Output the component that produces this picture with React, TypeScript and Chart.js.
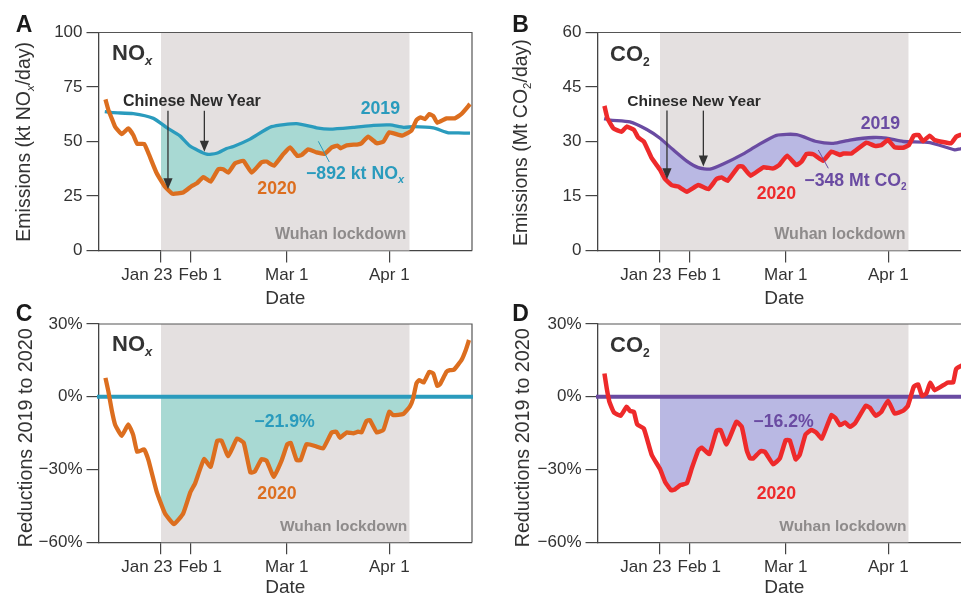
import React, { useEffect, useRef } from 'react';
import { Chart, registerables } from 'chart.js';

Chart.register(...registerables);
Chart.defaults.font.family = '"Liberation Sans", Arial, sans-serif';

// days are counted from Jan 23 (start of the Wuhan lockdown)
const lockdownStart = 0;
const lockdownEnd = 75.1;
const dayMin = -18.9;
const dayMax = 94;
const dateTicks = [0, 9, 38, 69];
const dateLabels = ['Jan 23      ', '    Feb 1', 'Mar 1', 'Apr 1'];

const noxDays2020 = [-16.8, -15.9, -14.9, -13.9, -11.9, -9.9, -8.4, -7.2, -5.1, -3.8, -1.3, 1.2, 3.5, 6.7, 9.3, 10.8, 12.8, 15, 17.3, 18.8, 20.3, 22.4, 24.9, 27.4, 30.4, 31.9, 34.1, 37, 39, 41.2, 42.5, 44.5, 47, 49.5, 51.6, 53.3, 54.3, 56.1, 59.6, 60.6, 62.6, 65.2, 67.2, 69, 72.9, 75.7, 77.2, 78.4, 79.8, 81.1, 82.3, 83.5, 86.3, 88.8, 90.8, 93.4];
const noxValues2020 = [69.3, 64.4, 60.6, 56.8, 53.4, 56, 53, 48.9, 48.9, 44.6, 35.4, 29.3, 26, 26.6, 29.6, 30.8, 33.6, 31.6, 37.3, 37.3, 35.7, 40, 41.1, 35.7, 40.5, 40.8, 38.9, 44.3, 47.3, 43.4, 43.8, 46.4, 45, 44.4, 47.3, 48.1, 46.9, 48.2, 48.7, 49.2, 52.2, 49.2, 49.9, 54.2, 52.7, 55, 59.8, 61.1, 60.3, 62.6, 61.7, 58.6, 60.6, 60.6, 62.6, 67.2];
const noxDays2019 = [-17, -14.4, -8.4, -2.3, 1.7, 5.7, 8.7, 13.8, 16.8, 19.8, 21.9, 26.9, 33.4, 41, 47, 51.1, 58.1, 64.2, 69.2, 73.3, 76.3, 82.3, 86.9, 89.9, 93.4];
const noxValues2019 = [63.7, 63.2, 62.8, 60.6, 56.4, 52.6, 48, 44.2, 44.6, 46.8, 47.7, 51.1, 56.8, 58.2, 56.3, 55.7, 56.5, 57.4, 57.6, 56.5, 56.8, 56.2, 54, 54, 53.8];

const co2Days2020 = [-16.8, -15.9, -14.1, -11.6, -10.1, -7.9, -6.6, -4.9, -2.5, 0, 1.5, 3.5, 5.5, 8.1, 11.6, 14.6, 17.1, 18.6, 20.4, 23.7, 25, 27.4, 31.2, 34.2, 36, 38.4, 41.2, 42.8, 44.3, 46.3, 49.3, 51.8, 54.4, 55.4, 57.9, 62.4, 64.9, 66.9, 68.9, 70.9, 73.4, 75.2, 76.7, 78.2, 79.5, 81.5, 83, 88, 89.5, 90.8, 93.4];
const co2Values2020 = [39.8, 36.4, 33.6, 32.7, 34.1, 33.2, 31.1, 30, 25.4, 22.2, 19.7, 18, 17.6, 16.2, 18, 16.9, 19.7, 20.1, 19.2, 23.1, 23.1, 20.6, 22.9, 22.6, 23.5, 26.1, 23.5, 24.5, 26.6, 26.5, 24.7, 27.2, 26.3, 26.7, 26.7, 29.7, 28.8, 29, 30.4, 28.4, 28.3, 29, 31.6, 31.8, 30.1, 31.6, 30.4, 29.5, 31.3, 31.8, 32.5];
const co2Days2019 = [-16.9, -15.1, -9.1, -4, 0, 4, 8.1, 11.6, 15.1, 19.1, 25.2, 29.2, 35.2, 41.3, 47.3, 52.4, 57.4, 64.5, 68.5, 73.5, 81.6, 89.1, 90.8, 93.4];
const co2Values2019 = [36.3, 35.9, 35.4, 33.3, 30.9, 27.7, 24.6, 22.8, 22.4, 23.8, 26.6, 28.8, 31.7, 31.9, 30, 29.5, 30.4, 31.1, 30.9, 30, 29.7, 27.7, 28, 28.2];

const noxChangeDays = [-16.8, -15.9, -14.9, -13.9, -11.9, -9.9, -8.4, -7.2, -5.1, -3.8, -1.3, 1.2, 3.9, 6.7, 8.9, 10.3, 13, 15, 17, 18.3, 20.3, 23, 25, 27, 28.3, 30.4, 31.9, 34.1, 36.5, 38.2, 39.2, 41, 42.2, 44, 46.6, 49, 51.6, 53, 54.1, 56.1, 58.1, 59.6, 60.6, 62.1, 63.1, 65.2, 67.2, 69, 70.2, 73.2, 75.2, 76.2, 77.2, 78, 79.4, 81.1, 82.3, 83.5, 84.3, 86.3, 87.3, 88.5, 90.8, 92.1, 93.1];
const noxChangeValues = [7.8, 2.1, -5.5, -11.4, -16.1, -11.4, -15.8, -22.7, -21.7, -26.1, -39.2, -48.1, -52.5, -48.1, -39.2, -35.7, -25.7, -28.9, -18.1, -18.1, -24.5, -17.2, -19, -31.2, -30.9, -25.7, -26.4, -33, -26.1, -19.5, -19, -26.1, -26.1, -19.5, -20.3, -21.3, -14.7, -14.4, -16.9, -14.7, -15.1, -14.4, -14.7, -10, -9.6, -14.7, -13.7, -6.2, -7.6, -7.1, -4.1, -0.7, 5.5, 6.9, 5.9, 10.3, 9.6, 4.5, 5.1, 10.3, 11, 11.1, 15.1, 19.2, 23.4];
const co2ChangeDays = [-16.8, -16.1, -15.3, -13.9, -11.9, -10.1, -9.1, -7.9, -6.9, -4.9, -2.5, 0, 1.5, 3.3, 4.5, 6.2, 8.1, 9.6, 11.6, 12.6, 14.9, 17.1, 18.3, 20.1, 23.1, 24.7, 26.2, 27.2, 28.2, 30.4, 31.7, 34.2, 36.2, 38, 39.2, 41, 42.2, 44, 45.7, 47.2, 48.9, 51.8, 53, 54.4, 55.9, 57.4, 58.9, 62.2, 63.4, 65.2, 66.9, 68.9, 70.9, 73.4, 74.9, 76.7, 78, 79.2, 80.5, 81.7, 83, 87, 88.6, 89.5, 90.8, 93.4];
const co2ChangeValues = [9.6, 3.4, -2.1, -6.5, -7.8, -4.1, -5.8, -6.2, -11.4, -13.1, -24, -29.8, -35, -38.5, -38.2, -36.4, -35.7, -29.5, -22, -21, -23.6, -14, -13.7, -19.6, -10.3, -12.4, -22, -25.4, -25.4, -22.4, -22.7, -27.8, -25.4, -17.9, -17.9, -25.8, -24, -15.5, -13.7, -14.7, -17.2, -7.6, -8.7, -11.7, -10.6, -12.4, -11, -3.7, -4.5, -7.8, -6.2, -1.6, -6.9, -5.8, -3.8, 4.1, 5.1, 0.4, 1.4, 5.8, 2.7, 5.9, 5.9, 11.4, 12.6, 14];

const baselineDays = [dayMin - 0.45, dayMax + 0.4];
const baselineValues = [0, 0];

const ORANGE = '#dc6e1f';
const TEAL = '#2a9bbd';
const RED = '#ee2a2b';
const PURPLE = '#6a4ba2';
const TEAL_FILL = '#a8d9d3';
const PURPLE_FILL = '#b9b8e3';
const BAND = '#e4e0e0';
const DARK = '#333333';
const GREY_TEXT = '#8e8b8b';

const boldFont = (size: number) => `bold ${size}px "Liberation Sans", Arial, sans-serif`;
const plainFont = (size: number) => `${size}px "Liberation Sans", Arial, sans-serif`;
const subFont = (size: number) => `italic bold ${size}px "Liberation Sans", Arial, sans-serif`;

type Run = { text: string; font: string; dy?: number };

// writes text pieces one after the other, for the subscripts
const drawRuns = (ctx: any, x: number, y: number, runs: Run[], color: string) => {
  ctx.fillStyle = color;
  ctx.textAlign = 'left';
  ctx.textBaseline = 'alphabetic';
  let cursor = x;
  runs.forEach((run) => {
    ctx.font = run.font;
    ctx.fillText(run.text, cursor, y + (run.dy || 0));
    cursor += ctx.measureText(run.text).width;
  });
};

const noxRuns = [{ text: 'NO', font: boldFont(22) }, { text: 'x', font: subFont(13), dy: 5 }];
const co2Runs = [{ text: 'CO', font: boldFont(22) }, { text: '2', font: boldFont(12), dy: 5 }];

const panels: any[] = [
  {
    left: 0, top: 0, height: 310, plotTop: 32.5, plotBottom: 250.5,
    yMin: 0, yMax: 100, yStep: 25, percent: false,
    lineDays: noxDays2020, lineValues: noxValues2020, lineColor: ORANGE, lineWidth: 4.3,
    refDays: noxDays2019, refValues: noxValues2019, refColor: TEAL, refWidth: 3.3,
    fill: TEAL_FILL, letter: 'A', letterX: 15.7, letterY: 31.7,
    heading: noxRuns, headingX: 112, headingY: 60,
    yTitle: [{ text: 'Emissions (kt NO', font: plainFont(19.5) }, { text: 'x', font: 'italic ' + plainFont(11.5), dy: 4 }, { text: '/day)', font: plainFont(19.5) }],
    yTitleX: 30, yTitleY: 241.7,
    arrows: [{ day: 2.1, from: 64.1, to: 28.1 }, { day: 13.1, from: 64.1, to: 45.3 }],
    newYearX: 123, newYearSize: 16,
    labels: [
      { runs: [{ text: '2019', font: boldFont(17.7) }], x: 360.7, y: 114, color: TEAL },
      { runs: [{ text: '2020', font: boldFont(17.7) }], x: 257.3, y: 194.3, color: ORANGE },
      { runs: [{ text: '−892 kt NO', font: boldFont(17.7) }, { text: 'x', font: subFont(11), dy: 3.5 }], x: 306, y: 179.3, color: TEAL },
    ],
    leader: [318.3, 141.3, 329.3, 162], lockX: 275, lockY: 238.7, lockSize: 16,
  },
  {
    left: 499, top: 0, height: 310, plotTop: 32.5, plotBottom: 250.5,
    yMin: 0, yMax: 60, yStep: 15, percent: false,
    lineDays: co2Days2020, lineValues: co2Values2020, lineColor: RED, lineWidth: 4.5,
    refDays: co2Days2019, refValues: co2Values2019, refColor: PURPLE, refWidth: 3.3,
    fill: PURPLE_FILL, letter: 'B', letterX: 13.3, letterY: 31.7,
    heading: co2Runs, headingX: 111, headingY: 60.7,
    yTitle: [{ text: 'Emissions (Mt CO', font: plainFont(19.5) }, { text: '2', font: plainFont(11.5), dy: 4 }, { text: '/day)', font: plainFont(19.5) }],
    yTitleX: 27.7, yTitleY: 246,
    arrows: [{ day: 2.1, from: 38.5, to: 19.6 }, { day: 13.1, from: 38.5, to: 23.1 }],
    newYearX: 128.3, newYearSize: 15.5,
    labels: [
      { runs: [{ text: '2019', font: boldFont(17.7) }], x: 361.7, y: 129.3, color: PURPLE },
      { runs: [{ text: '2020', font: boldFont(17.7) }], x: 257.7, y: 199.3, color: RED },
      { runs: [{ text: '−348 Mt CO', font: boldFont(17.7) }, { text: '2', font: boldFont(10), dy: 3.5 }], x: 305.3, y: 186, color: PURPLE },
    ],
    leader: [319.3, 150, 329.3, 168.3], lockX: 275.3, lockY: 238.7, lockSize: 16,
  },
  {
    left: 0, top: 295, height: 304, plotTop: 29, plotBottom: 247.3,
    yMin: -60, yMax: 30, yStep: 30, percent: true,
    lineDays: noxChangeDays, lineValues: noxChangeValues, lineColor: ORANGE, lineWidth: 4.3,
    refDays: baselineDays, refValues: baselineValues, refColor: TEAL, refWidth: 4,
    fill: TEAL_FILL, letter: 'C', letterX: 15.7, letterY: 26,
    heading: noxRuns, headingX: 112, headingY: 56,
    yTitle: [{ text: 'Reductions 2019 to 2020', font: plainFont(19.7) }],
    yTitleX: 31.7, yTitleY: 252.3,
    arrows: [], newYearX: 0, newYearSize: 16,
    labels: [
      { runs: [{ text: '−21.9%', font: boldFont(17.7) }], x: 254.3, y: 131.7, color: TEAL },
      { runs: [{ text: '2020', font: boldFont(17.7) }], x: 257.3, y: 204, color: ORANGE },
    ],
    leader: null, lockX: 280, lockY: 235.7, lockSize: 15.5,
  },
  {
    left: 499, top: 295, height: 304, plotTop: 29, plotBottom: 247.3,
    yMin: -60, yMax: 30, yStep: 30, percent: true,
    lineDays: co2ChangeDays, lineValues: co2ChangeValues, lineColor: RED, lineWidth: 4.5,
    refDays: baselineDays, refValues: baselineValues, refColor: PURPLE, refWidth: 4,
    fill: PURPLE_FILL, letter: 'D', letterX: 13.3, letterY: 26,
    heading: co2Runs, headingX: 111, headingY: 56.7,
    yTitle: [{ text: 'Reductions 2019 to 2020', font: plainFont(19.7) }],
    yTitleX: 30, yTitleY: 252.3,
    arrows: [], newYearX: 0, newYearSize: 16,
    labels: [
      { runs: [{ text: '−16.2%', font: boldFont(17.7) }], x: 254.3, y: 131.7, color: PURPLE },
      { runs: [{ text: '2020', font: boldFont(17.7) }], x: 257.7, y: 204, color: RED },
    ],
    leader: null, lockX: 280.3, lockY: 235.7, lockSize: 15.5,
  },
];

const PLOT_LEFT = 98.5;
const CANVAS_WIDTH = 473;

const pairs = (days: number[], values: number[]) => days.map((day, i) => ({ x: day, y: values[i] }));

const makePlugin = (panel: any) => ({
  id: 'panelDecor',
  beforeDatasetsDraw(chart: any) {
    const { ctx, chartArea, scales } = chart;
    const x0 = scales.x.getPixelForValue(lockdownStart);
    const x1 = scales.x.getPixelForValue(lockdownEnd);
    ctx.save();
    ctx.fillStyle = BAND;
    ctx.fillRect(x0, chartArea.top, x1 - x0, chartArea.height);

    // gap between the two lines, only inside the lockdown band
    const upper = chart.getDatasetMeta(1).data;
    const lower = chart.getDatasetMeta(0).data;
    ctx.beginPath();
    ctx.rect(x0, chartArea.top, x1 - x0, chartArea.height);
    ctx.clip();
    ctx.beginPath();
    upper.forEach((pt: any, i: number) => (i ? ctx.lineTo(pt.x, pt.y) : ctx.moveTo(pt.x, pt.y)));
    [...lower].reverse().forEach((pt: any) => ctx.lineTo(pt.x, pt.y));
    ctx.closePath();
    ctx.fillStyle = panel.fill;
    ctx.fill();
    ctx.restore();

    // top and right sides of the frame
    ctx.save();
    ctx.strokeStyle = '#555555';
    ctx.lineWidth = 1.2;
    ctx.beginPath();
    ctx.moveTo(chartArea.left, chartArea.top);
    ctx.lineTo(chartArea.right, chartArea.top);
    ctx.lineTo(chartArea.right, chartArea.bottom);
    ctx.stroke();
    ctx.restore();
  },
  afterDatasetsDraw(chart: any) {
    const { ctx, scales } = chart;
    ctx.save();

    drawRuns(ctx, panel.letterX, panel.letterY, [{ text: panel.letter, font: boldFont(23) }], '#1a1a1a');
    drawRuns(ctx, panel.headingX, panel.headingY, panel.heading, DARK);

    ctx.save();
    ctx.translate(panel.yTitleX, panel.yTitleY);
    ctx.rotate(-Math.PI / 2);
    drawRuns(ctx, 0, 0, panel.yTitle, DARK);
    ctx.restore();

    if (panel.arrows.length) {
      drawRuns(ctx, panel.newYearX, 106, [{ text: 'Chinese New Year', font: boldFont(panel.newYearSize) }], '#2b2b2b');
    }
    panel.arrows.forEach((arrow: any) => {
      const x = scales.x.getPixelForValue(arrow.day);
      const top = scales.y.getPixelForValue(arrow.from);
      const tip = scales.y.getPixelForValue(arrow.to);
      ctx.strokeStyle = DARK;
      ctx.lineWidth = 1.3;
      ctx.beginPath();
      ctx.moveTo(x, top);
      ctx.lineTo(x, tip - 8);
      ctx.stroke();
      ctx.fillStyle = DARK;
      ctx.beginPath();
      ctx.moveTo(x, tip);
      ctx.lineTo(x - 4.6, tip - 11);
      ctx.lineTo(x + 4.6, tip - 11);
      ctx.closePath();
      ctx.fill();
    });

    if (panel.leader) {
      const [ax, ay, bx, by] = panel.leader;
      ctx.strokeStyle = panel.refColor;
      ctx.lineWidth = 1;
      ctx.beginPath();
      ctx.moveTo(ax, ay);
      ctx.lineTo(bx, by);
      ctx.stroke();
    }

    panel.labels.forEach((label: any) => drawRuns(ctx, label.x, label.y, label.runs, label.color));
    drawRuns(ctx, panel.lockX, panel.lockY, [{ text: 'Wuhan lockdown', font: boldFont(panel.lockSize) }], GREY_TEXT);
    ctx.restore();
  },
});

const Panel = ({ panel }: { panel: any }) => {
  const canvasRef = useRef<HTMLCanvasElement | null>(null);

  useEffect(() => {
    if (!canvasRef.current) return;
    const chart = new Chart(canvasRef.current, {
      type: 'line',
      data: {
        datasets: [
          {
            data: pairs(panel.lineDays, panel.lineValues),
            borderColor: panel.lineColor,
            borderWidth: panel.lineWidth,
            pointRadius: 0,
            borderJoinStyle: 'round',
            tension: 0.12,
          },
          {
            data: pairs(panel.refDays, panel.refValues),
            borderColor: panel.refColor,
            borderWidth: panel.refWidth,
            pointRadius: 0,
            borderJoinStyle: 'round',
            tension: 0.2,
            clip: false,
          },
        ],
      } as any,
      options: {
        animation: false,
        responsive: false,
        layout: { padding: { top: panel.plotTop, right: 1 } },
        plugins: { legend: { display: false }, tooltip: { enabled: false } },
        scales: {
          x: {
            type: 'linear',
            min: dayMin,
            max: dayMax,
            afterBuildTicks: (scale: any) => {
              scale.ticks = dateTicks.map((value) => ({ value }));
            },
            afterFit: (scale: any) => {
              scale.height = panel.height - panel.plotBottom;
            },
            ticks: {
              autoSkip: false,
              maxRotation: 0,
              padding: 3,
              color: DARK,
              font: { size: 17 },
              callback: (_value: any, index: number) => dateLabels[index],
            },
            grid: { drawOnChartArea: false, tickLength: 12, tickColor: '#444444', lineWidth: 1.2 },
            border: { color: '#444444', width: 1.3 },
            title: { display: true, text: 'Date', color: DARK, font: { size: 19 }, padding: 0 },
          },
          y: {
            min: panel.yMin,
            max: panel.yMax,
            afterFit: (scale: any) => {
              scale.width = PLOT_LEFT;
            },
            ticks: {
              stepSize: panel.yStep,
              padding: 4,
              color: DARK,
              font: { size: 17 },
              callback: (value: any) => {
                const text = `${Math.abs(value)}`;
                const sign = value < 0 ? '−' : '';
                return sign + text + (panel.percent ? '%' : '');
              },
            },
            grid: { drawOnChartArea: false, tickLength: 12, tickColor: '#444444', lineWidth: 1.2 },
            border: { color: '#444444', width: 1.3 },
          },
        },
      } as any,
      plugins: [makePlugin(panel)],
    });
    return () => chart.destroy();
  }, [panel]);

  return (
    <canvas
      ref={canvasRef}
      width={CANVAS_WIDTH}
      height={panel.height}
      style={{ position: 'absolute', left: panel.left, top: panel.top }}
    />
  );
};

export default function App() {
  return (
    <div style={{ position: 'fixed', left: 0, top: 0, width: 961, height: 594, overflow: 'hidden', background: '#ffffff' }}>
      {panels.map((panel) => (
        <Panel key={panel.letter} panel={panel} />
      ))}
    </div>
  );
}
